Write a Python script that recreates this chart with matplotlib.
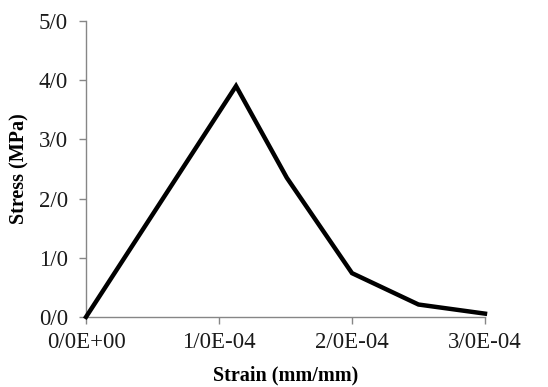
import matplotlib as mpl
mpl.use('Agg')
import matplotlib.pyplot as plt
from matplotlib.ticker import FuncFormatter

# data
strain = [0.0, 1.128e-4, 1.51e-4, 2.0e-4, 2.5e-4, 3.0e-4]
stress = [0.0, 3.90, 2.35, 0.74, 0.21, 0.056]

x_ticks = [0.0, 1e-4, 2e-4, 3e-4]
y_ticks = [0, 1, 2, 3, 4, 5]

plt.rcParams['font.family'] = ['Liberation Serif', 'DejaVu Serif']

fig = plt.figure(figsize=(5.48, 3.87), dpi=100)
ax = fig.add_axes([0.157, 0.181, 0.728, 0.765])

ax.plot(strain, stress, color='black', linewidth=3.2, solid_joinstyle='miter',
        clip_on=False, zorder=3)

ax.set_xlim(0, 3e-4)
ax.set_ylim(0, 5)
ax.set_xticks(x_ticks)
ax.set_yticks(y_ticks)

#decimal separator is drawn as a slash in the original
ax.xaxis.set_major_formatter(FuncFormatter(lambda v, p: ('%.1E' % v).replace('.', '/')))
ax.yaxis.set_major_formatter(FuncFormatter(lambda v, p: ('%.1f' % v).replace('.', '/')))

for side in ['top', 'right']:
    ax.spines[side].set_visible(False)
for side in ['left', 'bottom']:
    ax.spines[side].set_color('#868686')
    ax.spines[side].set_linewidth(1.0)

ax.tick_params(axis='both', direction='out', length=5, width=1.0,
               color='#868686', labelsize=16.5, labelcolor='#1a1a1a')
ax.tick_params(axis='x', pad=6)
ax.tick_params(axis='y', pad=8)

ax.set_xlabel('Strain (mm/mm)', fontsize=14.5, fontweight='bold')
ax.set_ylabel('Stress (MPa)', fontsize=14.5, fontweight='bold')
ax.xaxis.label.set_va('bottom')
ax.xaxis.set_label_coords(0.5, -0.232)
ax.yaxis.set_label_coords(-0.143, 0.5)

plt.savefig('out.png', dpi=100)
